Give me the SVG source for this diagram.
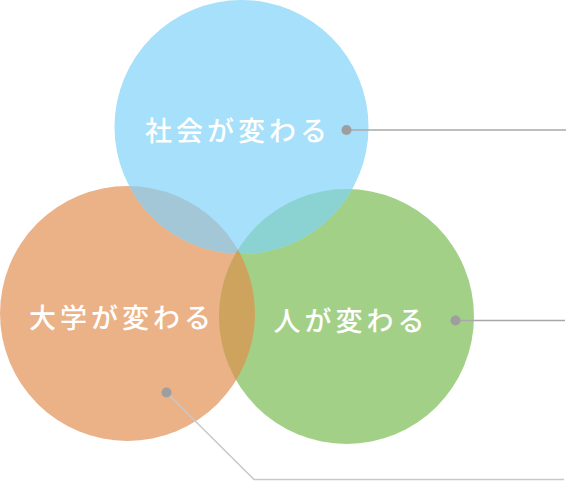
<svg xmlns="http://www.w3.org/2000/svg" width="568" height="481" viewBox="0 0 568 481">
<style>
.lbl{font-family:"Noto Sans CJK JP","Noto Sans CJK SC",sans-serif;font-size:27px;font-weight:500;fill:#ffffff;letter-spacing:4px;text-anchor:middle}
.ln{fill:none;stroke:#a8a8a8;stroke-width:1.5}
.ln2{fill:none;stroke:#c8c8c8;stroke-width:1.5}
.dot{fill:#9e9e9e}
</style>
<defs>
<clipPath id="cO"><circle cx="127.5" cy="313.5" r="127.5"/></clipPath>
<clipPath id="cG"><circle cx="346.5" cy="316.5" r="127.5"/></clipPath>
<clipPath id="cB"><circle cx="241.5" cy="127" r="127"/></clipPath>
</defs>
<g id="circles">
<circle id="orange-circle" cx="127.5" cy="313.5" r="127.5" fill="#ebb187"/>
<circle id="green-circle" cx="346.5" cy="316.5" r="127.5" fill="#a3d087"/>
<circle id="blue-circle" cx="241.5" cy="127" r="127" fill="#a6e0fa"/>
<g clip-path="url(#cB)"><circle cx="127.5" cy="313.5" r="127.5" fill="#a3c7d6"/></g>
<g clip-path="url(#cB)"><circle cx="346.5" cy="316.5" r="127.5" fill="#8bd2d3"/></g>
<g clip-path="url(#cO)"><circle cx="346.5" cy="316.5" r="127.5" fill="#cea35e"/></g>
<g clip-path="url(#cO)"><g clip-path="url(#cB)"><circle cx="346.5" cy="316.5" r="127.5" fill="#c6a468"/></g></g>
</g>
<g id="connectors">
<path class="ln" d="M346.5 130 H566"/>
<path class="ln" d="M455.5 320.5 H565"/>
<path class="ln2" d="M166.5 392.5 L254 479.5 H564"/>
<circle class="dot" cx="346.5" cy="130" r="5"/>
<circle class="dot" cx="455.5" cy="320.5" r="5"/>
<circle class="dot" cx="166.5" cy="392.5" r="5"/>
</g>
<g id="node-society"><text class="lbl" x="238" y="141">社会が変わる</text></g>
<g id="node-university"><text class="lbl" x="122" y="328">大学が変わる</text></g>
<g id="node-people"><text class="lbl" x="351" y="331">人が変わる</text></g>
</svg>
